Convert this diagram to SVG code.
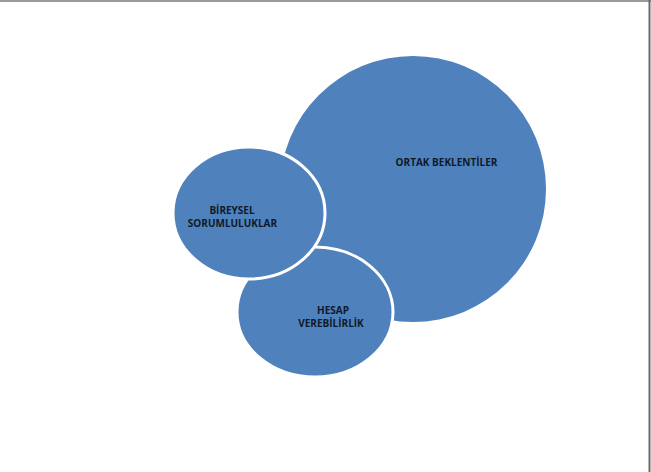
<svg xmlns="http://www.w3.org/2000/svg" width="651" height="472" viewBox="0 0 651 472">
<style>
.c{fill:#4F81BD}
.s{stroke:#FFFFFF;stroke-width:3}
.t{font-family:"Open Sans","Liberation Sans",sans-serif;font-weight:bold;font-size:10px;fill:#0E1A2A;text-anchor:middle}
</style>
<rect width="651" height="472" fill="#FFFFFF"/>
<line x1="0" y1="1" x2="651" y2="1" stroke="#9A9A9A" stroke-width="2"/>
<line x1="649.5" y1="0" x2="649.5" y2="472" stroke="#6A6A6A" stroke-width="2"/>
<g id="ortak">
<circle class="c" cx="413" cy="189" r="133"/>
<text class="t" x="446.5" y="166">ORTAK BEKLENTİLER</text>
</g>
<g id="hesap">
<ellipse class="c s" cx="315" cy="312" rx="78" ry="65"/>
<text class="t" x="333" y="314">HESAP</text>
<text class="t" x="331" y="327">VEREBİLİRLİK</text>
</g>
<g id="bireysel">
<ellipse class="c s" cx="249" cy="213" rx="76" ry="66"/>
<text class="t" x="232" y="214">BİREYSEL</text>
<text class="t" x="232.5" y="227">SORUMLULUKLAR</text>
</g>
<g id="connectors"/>
</svg>
